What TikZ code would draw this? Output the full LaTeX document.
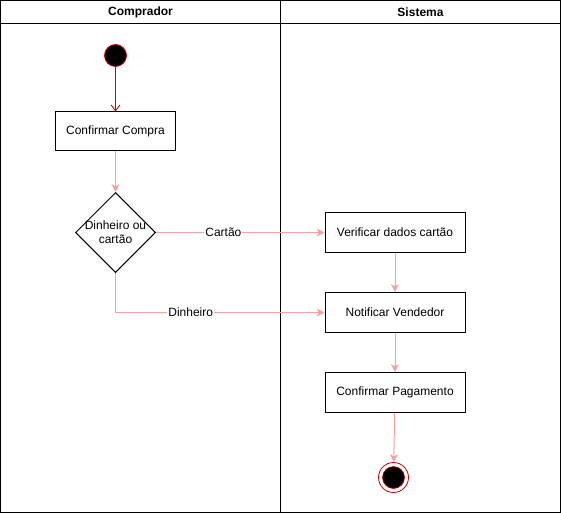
\documentclass[tikz,border=0pt]{standalone}
\usepackage{fontspec}
\setmainfont{Liberation Sans}
\usetikzlibrary{arrows.meta,shapes.geometric}
\definecolor{pinkline}{HTML}{F8A0A0}
\definecolor{darkred}{HTML}{CC0000}
\tikzset{
  x=1pt,y=-1pt,
  every node/.style={font=\fontsize{12}{14}\selectfont},
  actbox/.style={draw,line width=1pt,minimum width=120pt,minimum height=38pt,inner sep=2pt,align=center},
  flow/.style={draw=pinkline,line width=1pt,-{Stealth[length=8pt,width=8pt,inset=2.5pt]}},
  lbl/.style={fill=white,inner sep=1pt},
}
\begin{document}
\begin{tikzpicture}
\useasboundingbox (0,0) rectangle (561,513);
% swimlanes
\draw[line width=1pt] (0.5,0.5) rectangle (560.5,512.5);
\draw[line width=1pt] (0.5,23.5) -- (560.5,23.5);
\draw[line width=1pt] (280.5,0.5) -- (280.5,512.5);
\node[font=\fontsize{12}{14}\selectfont\bfseries] (h1) at (140.5,12.5) {Comprador};
\node[font=\fontsize{12}{14}\selectfont\bfseries] (h2) at (420.5,12.5) {Sistema};
% nodes
\node[circle,fill=black,draw=darkred,line width=0.8pt,minimum size=22pt,inner sep=0pt] (start) at (115.5,55.5) {};
\node[actbox,minimum width=120pt,minimum height=38pt] (cc) at (115.5,131) {Confirmar Compra};
\node[diamond,draw,line width=1pt,minimum width=80pt,minimum height=80pt,inner sep=0pt,align=center,aspect=1] (dec) at (115.5,232.5) {};
\node[align=center] (dectext) at (115.5,232.5) {Dinheiro ou\\cartão};
\node[actbox,minimum width=140pt,minimum height=40pt] (vd) at (395,232.5) {Verificar dados cartão};
\node[actbox,minimum width=140pt,minimum height=40pt] (nv) at (395,312.5) {Notificar Vendedor};
\node[actbox,minimum width=140pt,minimum height=40pt] (cp) at (395,392.5) {Confirmar Pagamento};
\node[circle,draw=darkred,line width=0.8pt,minimum size=30pt,inner sep=0pt] (endo) at (393.5,477.5) {};
\node[circle,fill=black,draw=darkred,line width=0.6pt,minimum size=22pt,inner sep=0pt] (endi) at (393.5,477.5) {};
% edges
\draw[draw=darkred,line width=0.8pt,-{Straight Barb[length=6pt,width=9pt]}] (start) -- (cc);
\draw[flow] (cc) -- (dec);
\draw[flow] (dec.east) -- node[lbl,pos=0.4] (lc) {Cartão} (vd.west);
\draw[flow] (dec.south) |- node[lbl,pos=0.68] (ld) {Dinheiro} (nv.west);
\draw[flow] (vd) -- (nv);
\draw[flow] (nv) -- (cp);
\draw[flow] (cp) -- (endo);
\end{tikzpicture}
\end{document}
